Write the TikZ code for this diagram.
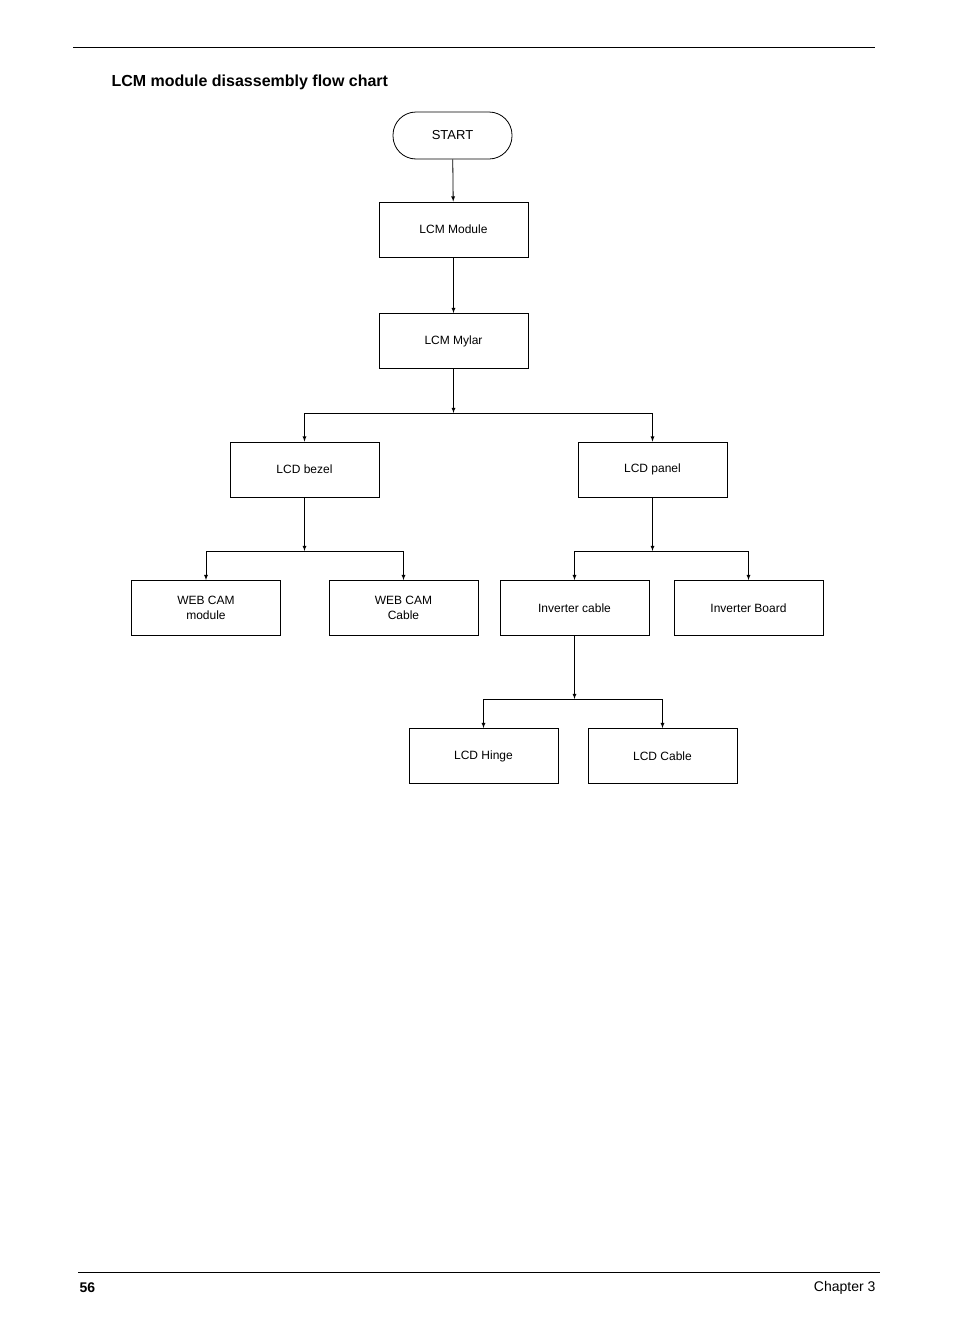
\documentclass[tikz,border=0pt]{standalone}
\usepackage{fontspec}
\setmainfont{Liberation Sans}
\usetikzlibrary{positioning}
\tikzset{
  stepbox/.style={draw, thick, rectangle, minimum width=149pt, minimum height=55pt, align=center, font=\fontsize{12}{15}\selectfont},
  startbox/.style={draw, thick, rounded corners=23pt, minimum width=119pt, minimum height=47pt, font=\fontsize{13}{15}\selectfont},
  flow/.style={thick, -latex},
  join/.style={thick}
}
\begin{document}
\begin{tikzpicture}[x=1pt, y=-1pt]
        \useasboundingbox (0,0) rectangle (954,1336);
        % Header and footer
        \draw (73,47) -- (875,47);
        \node[anchor=west, font=\bfseries\fontsize{16}{18}\selectfont] (title) at (108,82) {LCM module disassembly flow chart};
        \draw (78,1272) -- (880,1272);
        \node[anchor=west, font=\bfseries\fontsize{14}{16}\selectfont] (pagenum) at (76,1288) {56};
        \node[anchor=east, font=\fontsize{14}{16}\selectfont] (chapter) at (879,1288) {Chapter 3};
        
        % Boxes
        \node[startbox] (start) at (452.5,135.5) {START};
        \node[stepbox] (lcm_module) at (453.5,229.5) {LCM Module};
        \node[stepbox] (lcm_mylar) at (453.5,341) {LCM Mylar};
        \node[stepbox] (lcd_bezel) at (304.5,469.5) {LCD bezel};
        \node[stepbox] (lcd_panel) at (652.5,469.5) {LCD panel};
        \node[stepbox] (webcam_module) at (206,608) {WEB CAM\\module};
        \node[stepbox] (webcam_cable) at (403.5,608) {WEB CAM\\Cable};
        \node[stepbox] (inverter_cable) at (574.5,608) {Inverter cable};
        \node[stepbox] (inverter_board) at (748.5,608) {Inverter Board};
        \node[stepbox] (lcd_hinge) at (483.5,756) {LCD Hinge};
        \node[stepbox] (lcd_cable) at (662.5,756) {LCD Cable};
        
        % Junctions
        \coordinate (j1) at (453.5,413);
        \coordinate (j2) at (304.5,551);
        \coordinate (j3) at (652.5,551);
        \coordinate (j4) at (574.5,699);
        
        % Connections
        \draw[flow] (start) -- (lcm_module);
        \draw[flow] (lcm_module) -- (lcm_mylar);
        \draw[flow] (lcm_mylar) -- (j1);
        \draw[flow] (j1) -| (lcd_bezel);
        \draw[flow] (j1) -| (lcd_panel);
        \draw[flow] (lcd_bezel) -- (j2);
        \draw[flow] (j2) -| (webcam_module);
        \draw[flow] (j2) -| (webcam_cable);
        \draw[flow] (lcd_panel) -- (j3);
        \draw[flow] (j3) -| (inverter_cable);
        \draw[flow] (j3) -| (inverter_board);
        \draw[flow] (inverter_cable) -- (j4);
        \draw[flow] (j4) -| (lcd_hinge);
        \draw[flow] (j4) -| (lcd_cable);
    \end{tikzpicture}
\end{document}
